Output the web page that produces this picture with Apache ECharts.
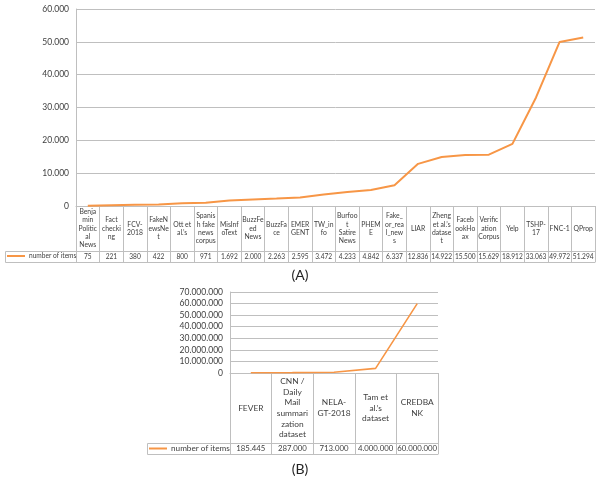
<!DOCTYPE html>
<html><head><meta charset="utf-8">
<script src="https://cdn.jsdelivr.net/npm/echarts@6/dist/echarts.min.js"></script>
<style>html,body{margin:0;padding:0;background:#fff}#c{width:600px;height:477px}</style>
</head><body><div id="c"></div>
<script>
const categoriesA = ["Benja\nmin\nPolitic\nal\nNews","Fact\nchecki\nng","FCV-\n2018","FakeN\newsNe\nt","Ott et\nal.’s","Spanis\nh fake\nnews\ncorpus","MisInf\noText","BuzzFe\ned\nNews","BuzzFa\nce","EMER\nGENT","TW_in\nfo","Burfoo\nt\nSatire\nNews","PHEM\nE","Fake_\nor_rea\nl_new\ns","LIAR","Zheng\net al.’s\ndatase\nt","Faceb\nookHo\nax","Verific\nation\nCorpus","Yelp","TSHP-\n17","FNC-1","QProp"];
const valuesA = [75,221,380,422,800,971,1692,2000,2263,2595,3472,4233,4842,6337,12836,14922,15500,15629,18912,33063,49972,51294];
const categoriesB = ["FEVER","CNN /\nDaily\nMail\nsummari\nzation\ndataset","NELA-\nGT-2018","Tam et\nal.’s\ndataset","CREDBA\nNK"];
const valuesB = [185445,287000,713000,4000000,60000000];
const seriesName = "number of items";
const panelLabels = ["(A)","(B)"];

function fmt(v){ return String(v).replace(/\B(?=(\d{3})+(?!\d))/g, "."); }

const FONT = "Lato";
const TXT = "#404040";
const GRID = "#bfbfbf";
const ORANGE = "#F79646";

const A = {left:76, right:5, top:9, bottom:271, catH:45, valH:11, legL:5, catFont:6.8, catLH:8.3, valFont:6.6, legFont:6.6, iconW:18, yFont:8.5, lw:2, yMax:60000, yInt:10000};
const B = {left:230, right:162, top:292, bottom:104, catH:70, valH:11, legL:147, catFont:8.4, catLH:10.6, valFont:7.8, legFont:8.2, iconW:18, yFont:8.5, lw:1.6, yMax:70000000, yInt:10000000};
const H = 477;

function axesFor(P, idx, cats, vals){
  const common = {type:'category', gridIndex:idx, data:cats, boundaryGap:true, position:'bottom'};
  return [
    Object.assign({}, common, {
      axisLine:{show:true, lineStyle:{color:GRID, width:1}},
      axisTick:{show:true, interval:0, length:P.catH+P.valH, lineStyle:{color:GRID}},
      axisLabel:{interval:0, margin:P.catH/2, verticalAlign:'middle', align:'center', fontFamily:FONT, fontSize:P.catFont, color:TXT, lineHeight:P.catLH}
    }),
    Object.assign({}, common, {
      offset:P.catH,
      data: vals.map(fmt),
      axisLine:{show:true, lineStyle:{color:GRID, width:1}},
      axisTick:{show:false},
      axisLabel:{interval:0, margin:P.valH/2, verticalAlign:'middle', align:'center', fontFamily:FONT, fontSize:P.valFont, color:TXT}
    }),
    Object.assign({}, common, {
      offset:P.catH+P.valH,
      axisLine:{show:true, lineStyle:{color:GRID, width:1}},
      axisTick:{show:false}, axisLabel:{show:false}
    })
  ];
}

function yFor(P, idx){
  return {type:'value', gridIndex:idx, min:0, max:P.yMax, interval:P.yInt,
    axisLine:{show:true, lineStyle:{color:GRID}}, axisTick:{show:false},
    splitLine:{show:true, lineStyle:{color:GRID, width:1}},
    axisLabel:{formatter:fmt, fontFamily:FONT, fontSize:P.yFont, color:TXT, margin:7}};
}

function legendCell(P){
  const y0 = H - P.bottom + P.catH;
  return {type:'rect', shape:{x:P.legL+0.5, y:y0+0.5, width:P.left-P.legL, height:P.valH}, style:{fill:'none', stroke:GRID, lineWidth:1}, silent:true};
}
function legendFor(P, idx){
  const y0 = H - P.bottom + P.catH;
  return {left:P.legL+2, top:y0+1.5, padding:0, icon:'rect', itemWidth:P.iconW, itemHeight:2, itemGap:0,
    data:[seriesName], textStyle:{fontFamily:FONT, fontSize:P.legFont, color:TXT, padding:[0,0,0,-1]}, selectedMode:false};
}

const chart = echarts.init(document.getElementById('c'), null, {renderer:'canvas'});
chart.setOption({
  animation:false,
  grid:[
    {left:A.left, right:A.right, top:A.top, bottom:A.bottom, outerBoundsMode:'none'},
    {left:B.left, right:B.right, top:B.top, bottom:B.bottom, outerBoundsMode:'none'}
  ],
  xAxis:[].concat(axesFor(A,0,categoriesA,valuesA), axesFor(B,1,categoriesB,valuesB)),
  yAxis:[yFor(A,0), yFor(B,1)],
  legend:[legendFor(A,0), legendFor(B,1)],
  title:[
    {text:panelLabels[0], left:'center', top:263, textStyle:{fontFamily:FONT, fontSize:14, fontWeight:'normal', color:'#222'}},
    {text:panelLabels[1], left:'center', top:457, textStyle:{fontFamily:FONT, fontSize:14, fontWeight:'normal', color:'#222'}}
  ],
  graphic:[legendCell(A), legendCell(B)],
  series:[
    {name:seriesName, type:'line', xAxisIndex:0, yAxisIndex:0, data:valuesA, symbol:'none', lineStyle:{color:ORANGE, width:A.lw}, itemStyle:{color:ORANGE}},
    {name:seriesName, type:'line', xAxisIndex:3, yAxisIndex:1, data:valuesB, symbol:'none', lineStyle:{color:ORANGE, width:B.lw}, itemStyle:{color:ORANGE}}
  ]
});
</script></body></html>
